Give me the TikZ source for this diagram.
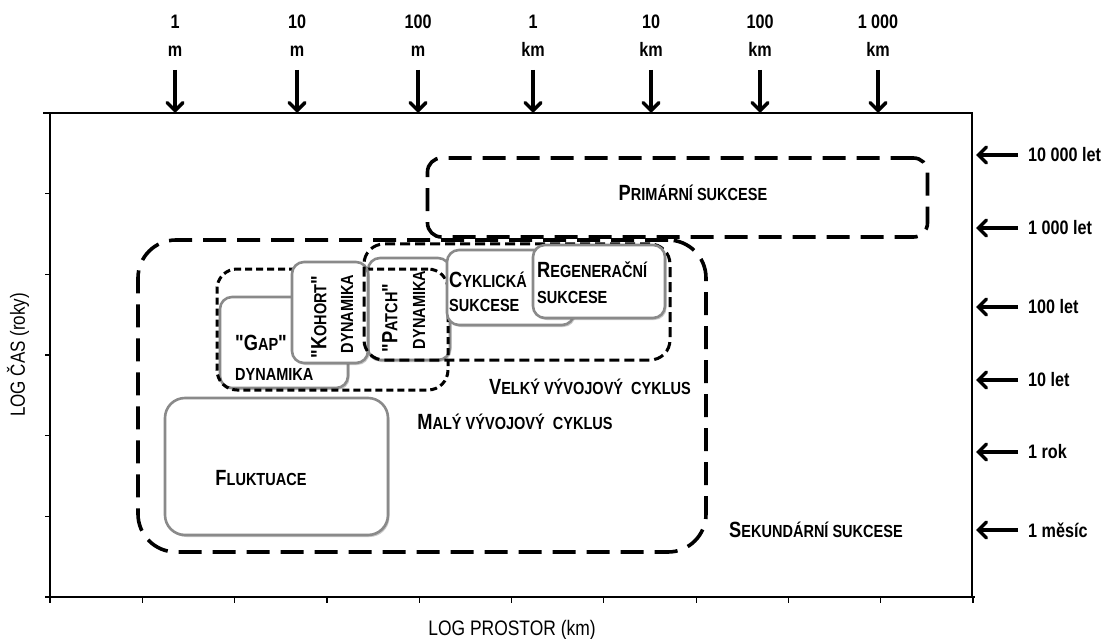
\documentclass[tikz,border=0pt]{standalone}
\usepackage{fontspec}
\setmainfont{Liberation Sans}
\newfontfamily\nar[FakeStretch=0.83]{Liberation Sans}
\usetikzlibrary{arrows.meta,shadows}
\newcommand\scap[2]{{\fontsize{22}{24}\selectfont #1}{\fontsize{17.5}{20}\selectfont #2}}
\newcommand\smc[1]{{\fontsize{17.5}{20}\selectfont #1}}
\definecolor{gline}{HTML}{8A8A8A}
\begin{document}
\begin{tikzpicture}[x=1pt,y=-1pt,
  axlab/.style={font=\nar\bfseries\fontsize{19.5}{28}\selectfont, inner sep=0, align=center},
  lab/.style={font=\nar\bfseries, inner sep=0, align=left},
  arr/.style={line width=3.4pt, -{Straight Barb[length=8pt,width=16pt,line cap=round]}},
  longdash/.style={draw, line width=3.6pt, inner sep=0, dash pattern=on 23pt off 11pt},
  middash/.style={draw, line width=3pt, inner sep=0, rounded corners=20pt, dash pattern=on 10pt off 5pt},
  shortdash/.style={draw, line width=3pt, inner sep=0, rounded corners=20pt, dash pattern=on 7pt off 4pt},
  gbox/.style={draw=gline, fill=white, line width=2.6pt, rounded corners=12pt, inner sep=0,
     drop shadow={shadow xshift=1.5pt, shadow yshift=-2pt, opacity=0.35, fill=black!60}}
]
\useasboundingbox (0,0) rectangle (1111,639);

% frame
\draw[line width=1.4pt] (43,113) -- (972,113) -- (972,597);
\draw[line width=2.2pt] (50,113) -- (50,597);
\draw[line width=2.2pt] (45,597) -- (975,597);
\foreach \i in {0,...,10} \draw[line width=1.2pt] ({50+\i*92.3},597) -- ({50+\i*92.3},603);
\foreach \i in {1,...,5} \draw[line width=1.2pt] (45,{113+\i*80.67}) -- (50,{113+\i*80.67});

% top labels and arrows
\foreach \x/\t/\n in {175/{1\\m}/a, 297/{10\\m}/b, 418/{100\\m}/c, 533/{1\\km}/d, 651/{10\\km}/e, 760/{100\\km}/f, 878/{1 000\\km}/g}{
  \node[axlab] (top\n) at (\x,36) {\t};
  \coordinate (ts\n) at (\x,70);
  \coordinate (te\n) at (\x,113);
  \draw[arr] (ts\n) -- (te\n);
}

% right labels and arrows
\foreach \y/\t/\n in {155/{10 000 let}/a, 228/{1 000 let}/b, 307/{100 let}/c, 380/{10 let}/d, 452/{1 rok}/e, 530/{1 měsíc}/f}{
  \node[axlab, anchor=west] (rl\n) at (1028,\y) {\t};
  \coordinate (rs\n) at (1018,\y);
  \coordinate (re\n) at (976,\y);
  \draw[arr] (rs\n) -- (re\n);
}

% axis titles
\node[font=\nar\fontsize{21}{24}\selectfont, inner sep=0] (xtitle) at (512,630) {LOG PROSTOR (km)};
\node[font=\nar\fontsize{20.5}{24}\selectfont, inner sep=0, rotate=90] (ytitle) at (18,355) {LOG ČAS (roky)};

% big dashed boxes
\node[longdash, rounded corners=38pt, minimum width=568pt, minimum height=312pt] (sek) at (422,396) {};
\node[longdash, rounded corners=14pt, minimum width=500pt, minimum height=79pt] (prim) at (677.5,197.5) {};

% grey boxes and dashed cycles
\node[gbox, rounded corners=20pt, minimum width=223pt, minimum height=137pt] (fluk) at (276.5,466.5) {};
\node[gbox, minimum width=128pt, minimum height=91pt] (gap) at (284,342.5) {};
\node[gbox, minimum width=82pt, minimum height=102pt] (patch) at (409,309) {};
\node[shortdash, minimum width=231pt, minimum height=121pt] (maly) at (332.5,329.5) {};
\node[gbox, minimum width=76pt, minimum height=101pt] (kohort) at (330,312.5) {};
\node[middash, minimum width=306pt, minimum height=116pt] (velky) at (517,302) {};
\node[gbox, minimum width=127pt, minimum height=75pt] (cykl) at (510.5,287.5) {};
\node[gbox, minimum width=132pt, minimum height=73pt] (regen) at (599,281.5) {};

% texts
\node[lab] (tprim) at (693,193) {\scap{P}{RIMÁRNÍ SUKCESE}};
\node[lab] (tsek) at (816,530) {\scap{S}{EKUNDÁRNÍ SUKCESE}};
\node[lab] (tvel) at (590,387) {\scap{V}{ELKÝ VÝVOJOVÝ\ \ CYKLUS}};
\node[lab] (tmal) at (515,422) {\scap{M}{ALÝ VÝVOJOVÝ\ \ CYKLUS}};
\node[lab] (tfluk) at (261,478) {\scap{F}{LUKTUACE}};
\node[lab, anchor=west] (tgap1) at (235,343) {\scap{"G}{AP}{\fontsize{22}{24}\selectfont"}};
\node[lab, anchor=west] (tgap2) at (235,374) {\smc{DYNAMIKA}};
\node[lab, rotate=90] (tkoh1) at (319,317) {\scap{"K}{OHORT}{\fontsize{22}{24}\selectfont"}};
\node[lab, rotate=90] (tkoh2) at (347,314) {\smc{DYNAMIKA}};
\node[lab, rotate=90] (tpat1) at (390,318) {\scap{"P}{ATCH}{\fontsize{22}{24}\selectfont"}};
\node[lab, rotate=90] (tpat2) at (419,310) {\smc{DYNAMIKA}};
\node[lab, anchor=west] (tcyk1) at (449,280) {\scap{C}{YKLICKÁ}};
\node[lab, anchor=west] (tcyk2) at (449,305) {\smc{SUKCESE}};
\node[lab, anchor=west] (treg1) at (537,270) {\scap{R}{EGENERAČNÍ}};
\node[lab, anchor=west] (treg2) at (537,297) {\smc{SUKCESE}};
\end{tikzpicture}
\end{document}
